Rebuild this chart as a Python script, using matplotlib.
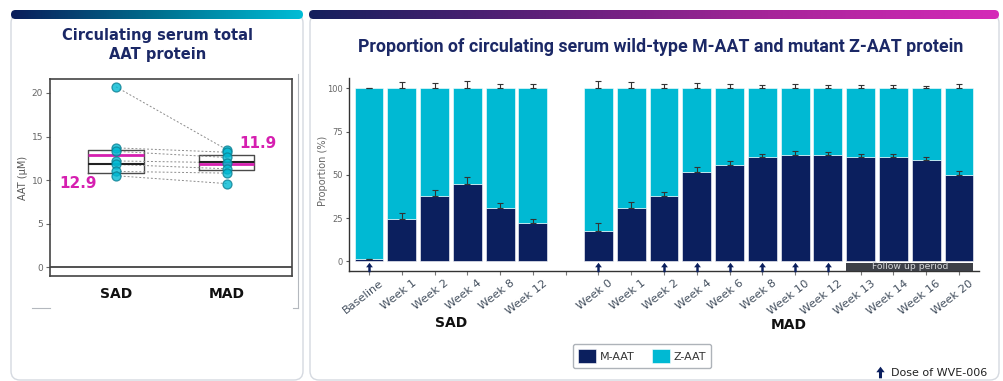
import numpy as np
import matplotlib
matplotlib.use("Agg")
import matplotlib.pyplot as plt
from matplotlib.patches import FancyBboxPatch, Rectangle
from matplotlib.path import Path
from matplotlib.colors import LinearSegmentedColormap
import matplotlib.transforms as mtransforms

W, H = 1004, 381
NAVY = "#0b1f5e"
CYAN = "#00b9d3"
MAGENTA = "#d61fb0"
TITLE_C = "#1b2866"
GREY_TXT = "#44505f"

# ---- total AAT (µM) per participant ----
groups = ["SAD", "MAD"]
sad_aat = [20.7, 13.7, 13.3, 12.2, 11.8, 11.0, 10.5]
mad_aat = [13.5, 13.2, 12.6, 12.0, 11.3, 10.8, 9.6]
box_q1 = [10.8, 11.2]
box_median = [11.9, 12.1]
box_q3 = [13.4, 12.9]
group_mean = [12.9, 11.9]

# ---- proportion of M-AAT (%) ----
sad_weeks = ["Baseline", "Week 1", "Week 2", "Week 4", "Week 8", "Week 12"]
sad_m_aat = [1.2, 24.7, 37.9, 44.5, 30.8, 22.0]
sad_err = [0.4, 3.5, 3.2, 4.3, 2.8, 2.4]
mad_weeks = ["Week 0", "Week 1", "Week 2", "Week 4", "Week 6", "Week 8",
             "Week 10", "Week 12", "Week 13", "Week 14", "Week 16", "Week 20"]
mad_m_aat = [17.8, 30.8, 37.5, 51.4, 55.5, 60.1, 61.3, 61.3, 60.5, 60.1, 58.8, 49.9]
mad_err = [4.4, 3.6, 2.4, 2.9, 2.5, 1.7, 2.5, 2.1, 1.7, 1.7, 1.6, 2.6]
sad_doses = ["Baseline"]
mad_doses = ["Week 0", "Week 2", "Week 4", "Week 6", "Week 8", "Week 10", "Week 12"]
follow_up = ("Week 13", "Week 20")

plt.rcParams["font.family"] = ["DejaVu Sans"]
fig = plt.figure(figsize=(W / 100, H / 100), dpi=100)
fig.patch.set_facecolor("white")


def px_axes(x0, y0, x1, y1):
    return fig.add_axes([x0 / W, 1 - y1 / H, (x1 - x0) / W, (y1 - y0) / H])


# ---- background layer: cards and header bars ----
bg = fig.add_axes([0, 0, 1, 1])
bg.set_zorder(-1)
bg.axis("off")


def card(x0, x1, y0, y1):
    bg.add_patch(FancyBboxPatch((x0, y0), x1 - x0, y1 - y0,
                                boxstyle="round,pad=0,rounding_size=9",
                                facecolor="white", edgecolor="#d5d9e0", lw=1.0, zorder=1))


def gradient_bar(x0, x1, y0, y1, colors):
    cmap = LinearSegmentedColormap.from_list("hdr", colors)
    grad = np.linspace(0, 1, 512)[None, :]
    im = bg.imshow(grad, cmap=cmap, extent=(x0, x1, y1, y0), aspect="auto", zorder=3)
    clip = FancyBboxPatch((x0, y0), x1 - x0, y1 - y0,
                          boxstyle="round,pad=0,rounding_size=4.5",
                          facecolor="none", edgecolor="none", transform=bg.transData)
    bg.add_patch(clip)
    im.set_clip_path(clip)


card(11, 303, 14, 380)
card(310, 999, 14, 380)
gradient_bar(11, 303, 10, 19, ["#0a1d5a", "#006f8e", "#00bdd6"])
gradient_bar(309, 999, 10, 19, ["#141f5c", "#5d2079", "#a62499", "#d52ab8"])
# frame edges of the left chart image
bg.plot([298, 298], [74, 308], color="#b4b8be", lw=0.8, zorder=2)
bg.plot([32, 50], [308, 308], color="#b4b8be", lw=0.8, zorder=2)
bg.plot([293, 298], [308, 308], color="#b4b8be", lw=0.8, zorder=2)

# titles
fig.text(158 / W, 1 - 45 / H, "Circulating serum total\nAAT protein", ha="center", va="center",
         fontsize=10.5, fontweight="bold", color=TITLE_C, linespacing=1.3)
fig.text(661 / W, 1 - 47 / H,
         "Proportion of circulating serum wild-type M-AAT and mutant Z-AAT protein",
         ha="center", va="center", fontsize=12.8, fontweight="bold", color=TITLE_C,
         family=["Roboto", "DejaVu Sans"])

# ---- left chart: total AAT ----
ax1 = px_axes(50, 79, 292, 276)
pos = [1, 2]
stats = [dict(med=box_median[i], q1=box_q1[i], q3=box_q3[i],
              whislo=box_q1[i], whishi=box_q3[i], fliers=[]) for i in range(2)]
ax1.bxp(stats, positions=pos, widths=0.5, showfliers=False, showcaps=False,
        boxprops=dict(color="#4a4a4a", lw=1.0),
        whiskerprops=dict(lw=0),
        medianprops=dict(color="#222222", lw=1.5))
ax1.hlines(group_mean, [p - 0.25 for p in pos], [p + 0.25 for p in pos],
           color=MAGENTA, lw=2, zorder=4)
for a, b in zip(sad_aat, mad_aat):
    ax1.plot(pos, [a, b], ls=(0, (2, 2)), color="#8c8c8c", lw=0.7, zorder=2)
ax1.scatter([pos[0]] * len(sad_aat), sad_aat, s=42, color=CYAN, alpha=0.8,
            edgecolor="#0b7f92", lw=0.9, zorder=5)
ax1.scatter([pos[1]] * len(mad_aat), mad_aat, s=42, color=CYAN, alpha=0.8,
            edgecolor="#0b7f92", lw=0.9, zorder=5)
ax1.axhline(0, color="#333333", lw=1.2)
ax1.text(pos[0] - 0.34, group_mean[0] - 3.3, f"{group_mean[0]:.1f}", color=MAGENTA,
         fontsize=11, fontweight="bold", ha="center", va="center")
ax1.text(pos[1] + 0.28, group_mean[1] + 2.3, f"{group_mean[1]:.1f}", color=MAGENTA,
         fontsize=11, fontweight="bold", ha="center", va="center")
ax1.set_xlim(0.404, 2.59)
ax1.set_ylim(-1.0, 21.6)
ax1.set_yticks([0, 5, 10, 15, 20])
ax1.set_xticks(pos)
ax1.set_xticklabels(groups, fontsize=10, fontweight="bold", color="#111111")
ax1.tick_params(axis="x", length=0, pad=8)
ax1.tick_params(axis="y", labelsize=6.5, labelcolor="#666666", length=3, width=0.8,
                color="#666666", pad=2)
for sp in ax1.spines.values():
    sp.set_color("#444444")
    sp.set_linewidth(1.2)
ax1.set_ylabel("AAT (µM)", fontsize=7, color="#555555")
ax1.yaxis.set_label_coords(-0.091, 0.5)

# ---- right chart: M-AAT / Z-AAT proportions ----
ax2 = px_axes(349, 78, 979, 271)
ax2.set_facecolor("none")
sad_x = list(range(len(sad_weeks)))
mad_x = list(range(len(sad_weeks) + 1, len(sad_weeks) + 1 + len(mad_weeks)))
xs = sad_x + mad_x
m_vals = sad_m_aat + mad_m_aat
z_vals = [100 - v for v in m_vals]
errs = sad_err + mad_err
bw = 0.88

bars_m = ax2.bar(xs, m_vals, width=bw, color=NAVY, edgecolor="white", lw=0.4, zorder=2)
bars_z = ax2.bar(xs, z_vals, bottom=m_vals, width=bw, color=CYAN, edgecolor="white", lw=0.4, zorder=2)
ax2.errorbar(xs, m_vals, yerr=[np.zeros(len(errs)), errs], fmt="none",
             ecolor="#333333", elinewidth=0.8, capsize=2.5, capthick=0.8, zorder=3)
ax2.errorbar(xs, [m + z for m, z in zip(m_vals, z_vals)], yerr=[np.zeros(len(errs)), errs],
             fmt="none", ecolor="#333333", elinewidth=0.8, capsize=2.5, capthick=0.8, zorder=3)

# dose arrows
arrow = Path([(0, 0.5), (-0.36, 0.02), (-0.13, 0.02), (-0.13, -0.5), (0.13, -0.5),
              (0.13, 0.02), (0.36, 0.02), (0, 0.5), (0, 0.5)],
             [Path.MOVETO] + [Path.LINETO] * 7 + [Path.CLOSEPOLY])
dose_x = [sad_x[sad_weeks.index(w)] for w in sad_doses] + \
         [mad_x[mad_weeks.index(w)] for w in mad_doses]
ax2.scatter(dose_x, [-3.0] * len(dose_x), marker=arrow, s=46, color=NAVY,
            lw=0, clip_on=False, zorder=4)

# follow-up band
f0 = mad_x[mad_weeks.index(follow_up[0])] - bw / 2
f1 = mad_x[mad_weeks.index(follow_up[1])] + bw / 2
ax2.add_patch(Rectangle((f0, -5.5), f1 - f0, 4.6, facecolor="#3d4047", edgecolor="none",
                        clip_on=False, zorder=3))
ax2.text((f0 + f1) / 2, -3.2, "Follow up period", ha="center", va="center",
         fontsize=6.7, color="#d5d7da", zorder=4)

ax2.set_xlim(-0.61, 18.61)
ax2.set_ylim(-5.6, 106)
ax2.spines[["top", "right"]].set_visible(False)
for sp in ("left", "bottom"):
    ax2.spines[sp].set_color("#333333")
    ax2.spines[sp].set_linewidth(1.0)
ax2.set_yticks([0, 25, 50, 75, 100])
ax2.tick_params(axis="y", labelsize=6, labelcolor="#666666", length=2.5, width=0.8,
                color="#555555", pad=2)
all_x = list(range(len(sad_weeks) + 1 + len(mad_weeks)))
all_lab = sad_weeks + [""] + mad_weeks
ax2.set_xticks(all_x)
ax2.set_xticklabels(all_lab, rotation=38, ha="right", va="top", rotation_mode="anchor",
                    fontsize=8.2, color=GREY_TXT)
ax2.tick_params(axis="x", length=3, width=0.8, color="#777777", pad=2)
shift = mtransforms.ScaledTranslation(10 / 100, 0, fig.dpi_scale_trans)
for lab in ax2.get_xticklabels():
    lab.set_transform(lab.get_transform() + shift)
ax2.set_ylabel("Proportion (%)", fontsize=7, color="#666666")
ax2.yaxis.set_label_coords(-0.033, 0.52)

grp_tr = mtransforms.blended_transform_factory(ax2.transData, ax2.transAxes)
ax2.text(np.mean(sad_x), -0.27, "SAD", transform=grp_tr, ha="center", va="center",
         fontsize=10, fontweight="bold", color="#111111")
ax2.text(np.mean(mad_x) + 0.3, -0.28, "MAD", transform=grp_tr, ha="center", va="center",
         fontsize=10, fontweight="bold", color="#111111")

fig.legend([bars_m, bars_z], ["M-AAT", "Z-AAT"], loc="center",
           bbox_to_anchor=(642 / W, 1 - 356 / H), ncol=2, frameon=True, fancybox=True,
           edgecolor="#9aa0a8", fontsize=8, handlelength=1.6, handleheight=1.5,
           handletextpad=0.3, columnspacing=1.6, borderpad=0.5, labelcolor="#333333")

# dose note
bg.scatter([880], [372], marker=arrow, s=70, color=NAVY, lw=0, zorder=5)
bg.text(891, 373, "Dose of WVE-006", ha="left", va="center", fontsize=8, color="#222222", zorder=5)

bg.set_xlim(0, W)
bg.set_ylim(H, 0)

fig.savefig("out.png", dpi=100, facecolor="white")
